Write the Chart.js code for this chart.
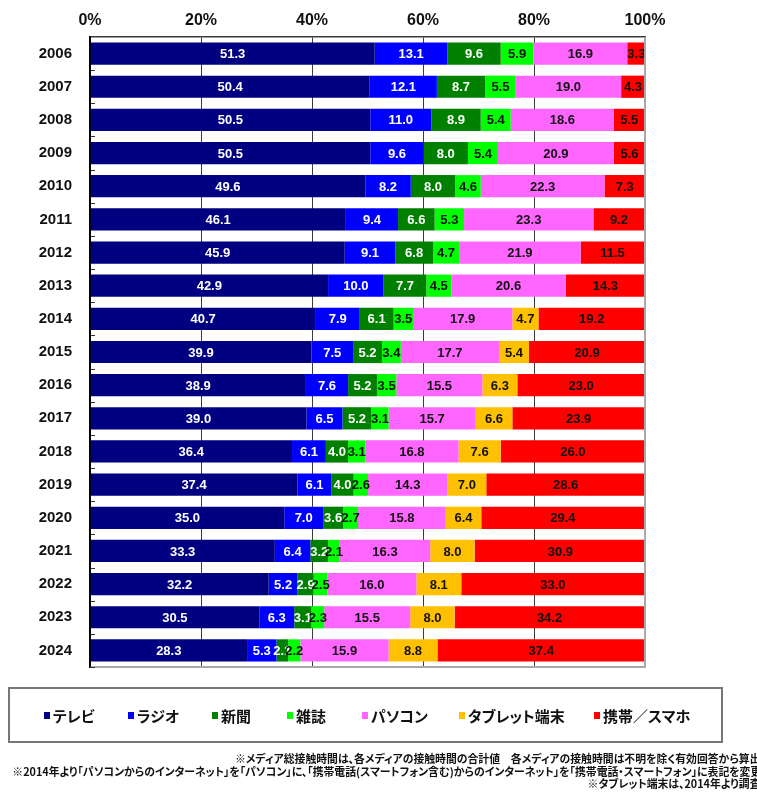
<!DOCTYPE html>
<html>
<head>
<meta charset="utf-8">
<script src="https://cdn.jsdelivr.net/npm/chart.js@4/dist/chart.umd.min.js"></script>
<style>
  html, body { margin:0; padding:0; background:#fff; overflow:hidden; }
  body { width:757px; height:797px; position:relative; }
  #wrap { position:absolute; left:0; top:0; width:757px; height:797px; }
  #legend { position:absolute; left:8px; top:687px; width:711px; height:52px; border:2px solid #777; box-sizing:content-box; }
  .li { position:absolute; top:0; height:52px; display:flex; align-items:center; white-space:nowrap;
        font-family:'Noto Sans CJK JP', sans-serif; font-weight:bold; font-size:15px; color:#111;
        font-feature-settings:"palt"; }
  .sw { display:inline-block; width:6px; height:7px; margin-right:3px; }
  .note { position:absolute; white-space:nowrap; font-family:'Noto Sans CJK JP', sans-serif; font-weight:bold;
          font-size:11px; color:#111; font-feature-settings:"palt"; transform-origin:right center; line-height:12px; }
</style>
</head>
<body>
<div id="wrap"><canvas id="c" width="757" height="797"></canvas></div>
<div id="legend"></div>
<div id="notes"></div>
<script>
const years = ["2006","2007","2008","2009","2010","2011","2012","2013","2014","2015","2016","2017","2018","2019","2020","2021","2022","2023","2024"];
const seriesNames = ["テレビ","ラジオ","新聞","雑誌","パソコン","タブレット端末","携帯／スマホ"];
const tv       = [51.3,50.4,50.5,50.5,49.6,46.1,45.9,42.9,40.7,39.9,38.9,39.0,36.4,37.4,35.0,33.3,32.2,30.5,28.3];
const radio    = [13.1,12.1,11.0,9.6,8.2,9.4,9.1,10.0,7.9,7.5,7.6,6.5,6.1,6.1,7.0,6.4,5.2,6.3,5.3];
const paper    = [9.6,8.7,8.9,8.0,8.0,6.6,6.8,7.7,6.1,5.2,5.2,5.2,4.0,4.0,3.6,3.2,2.9,3.1,2.1];
const magazine = [5.9,5.5,5.4,5.4,4.6,5.3,4.7,4.5,3.5,3.4,3.5,3.1,3.1,2.6,2.7,2.1,2.5,2.3,2.2];
const pc       = [16.9,19.0,18.6,20.9,22.3,23.3,21.9,20.6,17.9,17.7,15.5,15.7,16.8,14.3,15.8,16.3,16.0,15.5,15.9];
const tablet   = [null,null,null,null,null,null,null,null,4.7,5.4,6.3,6.6,7.6,7.0,6.4,8.0,8.1,8.0,8.8];
const mobile   = [3.3,4.3,5.5,5.6,7.3,9.2,11.5,14.3,19.2,20.9,23.0,23.9,26.0,28.6,29.4,30.9,33.0,34.2,37.4];
const xTicks   = [0,20,40,60,80,100];
const notes = [
  "※メディア総接触時間は、各メディアの接触時間の合計値　各メディアの接触時間は不明を除く有効回答から算出",
  "※2014年より「パソコンからのインターネット」を「パソコン」に、「携帯電話(スマートフォン含む)からのインターネット」を「携帯電話・スマートフォン」に表記を変更",
  "※タブレット端末は、2014年より調査"
];

const colors = ["#000080","#0000FF","#008000","#00FF00","#FF66FF","#FFC000","#FF0000"];
const labelColors = ["#fff","#fff","#fff","#111","#111","#111","#111"];
const allSeries = [tv, radio, paper, magazine, pc, tablet, mobile];

const datasets = allSeries.map((d,i)=>({
  label: seriesNames[i], data: d, backgroundColor: colors[i], borderWidth: 0,
  barPercentage: 0.67, categoryPercentage: 1.0
}));

const labelPlugin = {
  id:'barLabels',
  afterDatasetsDraw(chart){
    const ctx = chart.ctx;
    ctx.save();
    ctx.font = "bold 13px 'Liberation Sans', Arial, sans-serif";
    ctx.textAlign = 'center';
    ctx.textBaseline = 'middle';
    chart.data.datasets.forEach((ds,di)=>{
      const meta = chart.getDatasetMeta(di);
      meta.data.forEach((el,i)=>{
        const v = ds.data[i];
        if (v === null || v === undefined) return;
        const cx = (el.x + el.base)/2;
        ctx.fillStyle = labelColors[di];
        ctx.fillText(v.toFixed(1), cx, el.y + 1);
      });
    });
    ctx.restore();
  }
};

const framePlugin = {
  id:'frame',
  afterDatasetsDraw(chart){
    const {ctx, chartArea:a, scales} = chart;
    ctx.save();
    ctx.strokeStyle = '#a8a8a8'; ctx.lineWidth = 2;
    ctx.beginPath();
    ctx.moveTo(a.right, a.top); ctx.lineTo(a.right, a.bottom); ctx.lineTo(a.left, a.bottom);
    ctx.stroke();
    const y = scales.y;
    ctx.strokeStyle = '#333'; ctx.lineWidth = 1;
    ctx.beginPath();
    for (let i=1;i<=years.length;i++){
      const p = i < years.length ? (y.getPixelForTick(i-1)+y.getPixelForTick(i))/2 : a.bottom - 0.5;
      ctx.moveTo(a.left, Math.round(p)+0.5); ctx.lineTo(a.left+5, Math.round(p)+0.5);
    }
    ctx.stroke();
    ctx.strokeStyle = '#000'; ctx.lineWidth = 1.5;
    ctx.beginPath(); ctx.moveTo(a.left, a.top); ctx.lineTo(a.left, a.bottom); ctx.stroke();
    ctx.restore();
  }
};

new Chart(document.getElementById('c'), {
  type:'bar',
  data:{ labels: years, datasets },
  options:{
    indexAxis:'y',
    responsive:false,
    animation:false,
    layout:{ padding:{ left:0, right:112, top:0, bottom:130 } },
    plugins:{ legend:{display:false}, tooltip:{enabled:false} },
    scales:{
      x:{
        position:'top', stacked:true, min:0, max:100,
        afterFit(s){ s.height = 37; },
        afterBuildTicks(s){ s.ticks = xTicks.map(v=>({value:v})); },
        ticks:{ callback:v=>v+'%', padding:7, color:'#111',
                font:{ family:"'Liberation Sans',Arial,sans-serif", size:16, weight:'bold' } },
        grid:{ drawTicks:false, color:(c)=> c.tick && c.tick.value===100 ? 'rgba(0,0,0,0)' : '#3a3a3a', lineWidth:1 },
        border:{ display:true, color:'#3a3a3a', width:1.5 }
      },
      y:{
        stacked:true,
        afterFit(s){ s.width = 90; },
        ticks:{ padding:10, color:'#111', font:{ family:"'Liberation Sans', Arial, sans-serif", size:15, weight:'bold' } },
        grid:{ display:false },
        border:{ display:true, color:'#000', width:1.5 }
      }
    }
  },
  plugins:[labelPlugin, framePlugin]
});

const legendLefts = [34,118,202,277,352,449,584];
const lg = document.getElementById('legend');
seriesNames.forEach((n,i)=>{
  const d = document.createElement('div');
  d.className='li'; d.style.left = legendLefts[i]+'px';
  d.innerHTML = '<span class="sw" style="background:'+colors[i]+'"></span><span>'+n+'</span>';
  lg.appendChild(d);
});

const noteTops = [752, 765, 777];
const nt = document.getElementById('notes');
const els = notes.map((t,i)=>{
  const d = document.createElement('div');
  d.className='note'; d.textContent=t; d.style.top=noteTops[i]+'px'; d.style.right='-4px';
  nt.appendChild(d); return d;
});
const w2 = els[1].getBoundingClientRect().width;
const sc = (761-12)/w2;
els.forEach(e=>{ e.style.transform = 'scaleX('+sc+')'; });
</script>
</body>
</html>
